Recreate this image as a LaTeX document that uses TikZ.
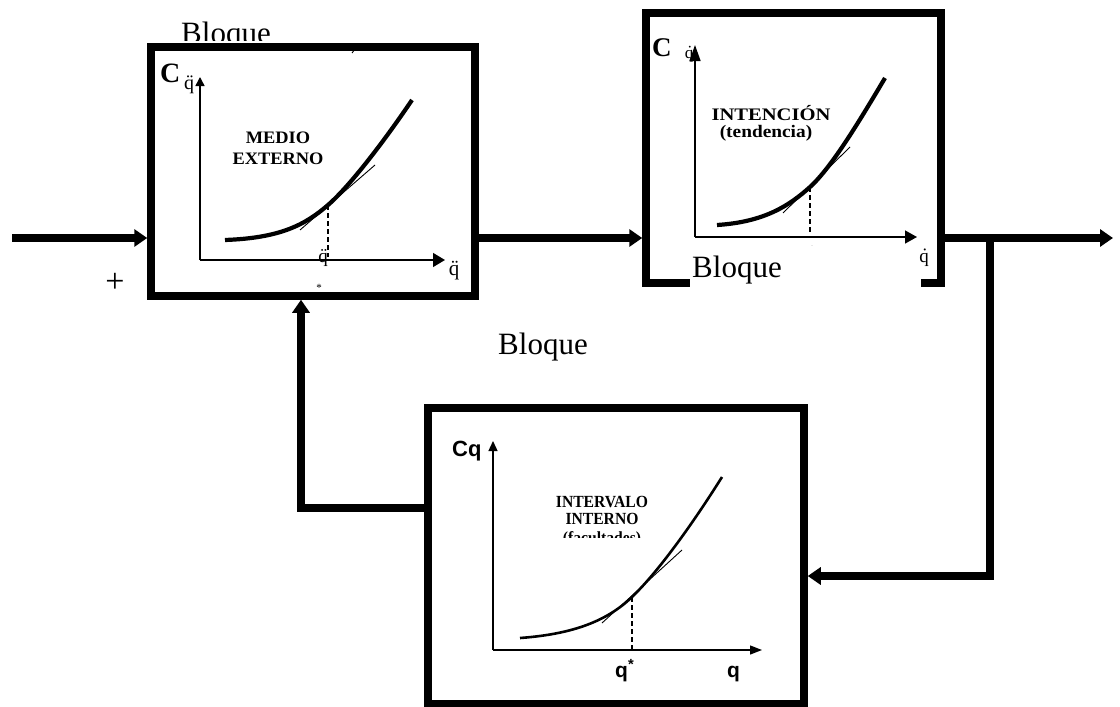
\documentclass[tikz,border=0pt]{standalone}
\usepackage{fontspec}
\setmainfont{Liberation Serif}
\newfontfamily\sansf{Liberation Sans}
\usetikzlibrary{arrows.meta}
\newcommand\fsz[1]{\fontsize{#1}{#1}\selectfont}
\begin{document}
\begin{tikzpicture}[x=1pt,y=-1pt,
  blk/.style={draw, line width=7.5pt, inner sep=0pt},
  conn/.style={line width=8pt, -{Triangle[length=13pt,width=17pt]}},
  axis/.style={line width=1.5pt},
  axisthin/.style={line width=1.3pt},
  crv/.style={line width=4.2pt},
  crvthin/.style={line width=2.6pt},
  tanline/.style={line width=0.9pt},
  dsh/.style={line width=1.4pt, dash pattern=on 5pt off 3pt},
  lbl/.style={inner sep=0pt},
  mask/.style={fill=white, inner sep=0pt, anchor=north west}]
\useasboundingbox (0,0) rectangle (1120,707);

% top "Bloque" (clipped at its lower part)
\begin{scope}
  \clip (150,0) rectangle (300,40);
  \node[lbl, anchor=base, font=\fsz{31}] (tb) at (226,43) {Bloque};
\end{scope}

% blocks
\node[blk, minimum width=324pt, minimum height=249pt] (b1) at (313,171.5) {};
\node[blk, minimum width=295pt, minimum height=270pt] (b2) at (793.5,148) {};
\node[blk, minimum width=376pt, minimum height=296pt] (b3) at (616,556) {};

% connectors
\coordinate (in) at (12,238);
\coordinate (mid) at (560,238);
\coordinate (out) at (1113,238);
\coordinate (br) at (990,234);
\coordinate (brd) at (990,576);
\coordinate (fbc) at (301,508);
\draw[conn] (in) -- (in -| b1.west);
\draw[conn] (mid -| b1.east) -- (mid -| b2.west);
\draw[conn] (out -| b2.east) -- (out);
\draw[conn] (br) -- (brd) -- (brd -| b3.east);
\draw[conn] (fbc -| b3.west) -- (fbc) -- (fbc |- b1.south);

\node[lbl, font=\fsz{34}] (plus) at (115,283) {+};
\node[lbl, anchor=base, font=\fsz{31}] (mb) at (543,354) {Bloque};

% ---- block 1 content
\coordinate (o1) at (200,260);
\draw[axis, -{Triangle[length=9pt,width=9pt]}] (o1) -- (200,77);
\draw[axis, -{Triangle[length=12pt,width=14pt]}] (o1) -- (445,260);
\draw[crv] (225,240) .. controls (280,238) and (305,225) .. (328,205)
           .. controls (350,186) and (385,140) .. (412,100);
\draw[tanline] (300,230) -- (375,165);
\draw[dsh] (328,205) -- (328,257);
\draw[tanline] (352,53) -- (355,49);
\node[lbl, anchor=base west, font=\fsz{28}\bfseries] (c1) at (160,82) {C};
\node[lbl, anchor=base, font=\fsz{20}] (c1s) at (189,89) {\"q};
\node[lbl, anchor=base, font=\fsz{19}] (q1s) at (323,262) {\"q};
\node[lbl, font=\fsz{11}] (st1) at (319,288) {*};
\node[lbl, anchor=base, font=\fsz{21}] (x1) at (454,275) {\"q};
\node[lbl, anchor=base, font=\fsz{17.5}\bfseries] (m1) at (278,143) {\scalebox{1.05}[1]{MEDIO}};
\node[lbl, anchor=base, font=\fsz{17.5}\bfseries] (m2) at (278,164) {\scalebox{1.05}[1]{EXTERNO}};

% ---- block 2 content
\coordinate (o2) at (695,237);
\draw[axis, -{Triangle[length=16pt,width=11pt]}] (o2) -- (695,45);
\draw[axis, -{Triangle[length=12pt,width=13pt]}] (o2) -- (917,237);
\draw[crv] (717,225) .. controls (765,222) and (790,205) .. (810,187)
           .. controls (832,167) and (860,120) .. (885,78);
\draw[tanline] (783,213) -- (850,147);
\draw[dsh] (810,187) -- (810,234);
\node[lbl, anchor=base west, font=\fsz{27}\bfseries] (c2) at (652,56) {C};
\node[lbl, anchor=base, font=\fsz{17}] (c2s) at (689,58) {\.q};
\node[lbl, anchor=base, font=\fsz{17.6}\bfseries] (i1) at (771,120) {\scalebox{1.17}[1]{INTENCIÓN}};
\node[lbl, anchor=base, font=\fsz{17.6}\bfseries] (i2) at (766,137) {\scalebox{1.1}[1]{(tendencia)}};
\node[lbl, font=\fsz{14}] (st2) at (812,251) {*};
\node[mask, minimum width=231pt, minimum height=46pt] (wm) at (690,246) {};
\node[lbl, anchor=base west, font=\fsz{31}] (bb) at (692,277) {Bloque};
\node[lbl, anchor=base, font=\fsz{19}] (x2) at (924,262) {\.q};

% ---- block 3 content
\coordinate (o3) at (493,650);
\draw[axisthin, -{Triangle[length=10pt,width=9pt]}] (o3) -- (493,441);
\draw[axisthin, -{Triangle[length=12pt,width=9pt]}] (o3) -- (762,650);
\draw[crvthin] (520,638) .. controls (575,634) and (608,620) .. (632,597)
               .. controls (660,570) and (695,520) .. (722,477);
\draw[tanline] (602,623) -- (682,550);
\draw[dsh] (632,597) -- (632,650);
\node[lbl, anchor=base west, font=\fsz{22}\sansf\bfseries] (cq) at (452,456) {Cq};
\node[lbl, anchor=base west, font=\fsz{21}\sansf\bfseries] (qs) at (615,677) {q\textsuperscript{*}};
\node[lbl, anchor=base west, font=\fsz{21}\sansf\bfseries] (qx) at (727,677) {q};
\node[lbl, anchor=base, font=\fsz{17}\bfseries] (n1) at (602,507) {\scalebox{0.92}[1]{INTERVALO}};
\node[lbl, anchor=base, font=\fsz{17}\bfseries] (n2) at (602,524) {\scalebox{0.92}[1]{INTERNO}};
\begin{scope}
  \clip (540,525) rectangle (670,537);
  \node[lbl, anchor=base, font=\fsz{17}\bfseries] (n3) at (602,543.5) {\scalebox{0.92}[1]{(facultades)}};
\end{scope}
\end{tikzpicture}
\end{document}
